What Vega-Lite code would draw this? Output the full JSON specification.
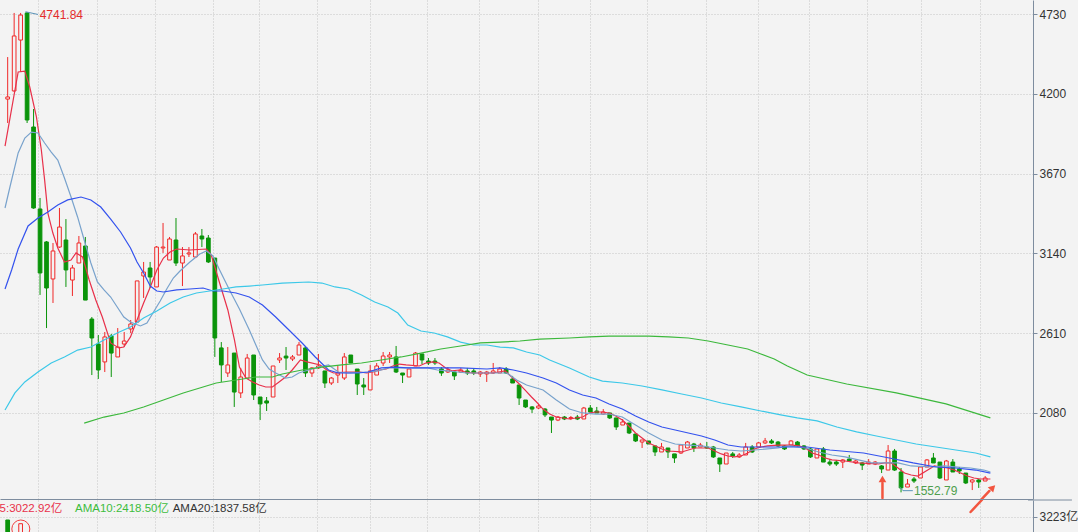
{
"$schema":"https://vega.github.io/schema/vega-lite/v6.json",
"background":"#f3f3f3",
"padding":0,
"spacing":0,
"config":{"view":{"stroke":null},"axis":{"domainColor":"#7d8c9e","tickColor":"#7d8c9e","labelColor":"#333333","labelFont":"Liberation Sans, Noto Sans CJK SC","labelFontSize":12,"gridColor":"#c4c4c4","gridDash":[1,2],"gridOpacity":1,"title":null},"axisY":{"orient":"right","tickSize":4,"labelPadding":2,"grid":true,"format":"d"}},
"datasets":{
"k":[
{"i":0,"o":4165,"h":4444,"l":4006,"c":4179},
{"i":1,"o":4219,"h":4737,"l":4212,"c":4584},
{"i":2,"o":4557,"h":4737,"l":4345,"c":4723},
{"i":3,"o":4737,"h":4741.84,"l":4006,"c":4026},
{"i":4,"o":3979.5,"h":4099,"l":3436,"c":3441.5},
{"i":5,"o":3435,"h":3508,"l":2864,"c":3010},
{"i":6,"o":3216,"h":3222,"l":2644,"c":2910},
{"i":7,"o":2970,"h":3209,"l":2810.5,"c":3156},
{"i":8,"o":3182,"h":3441.5,"l":3176,"c":3315},
{"i":9,"o":3229,"h":3368,"l":2917,"c":3030},
{"i":10,"o":2963,"h":3063,"l":2857,"c":3043},
{"i":11,"o":3076,"h":3255.5,"l":3076,"c":3209},
{"i":12,"o":3189,"h":3249,"l":2830,"c":2830},
{"i":13,"o":2704,"h":2717.5,"l":2332,"c":2578},
{"i":14,"o":2538,"h":2598,"l":2306,"c":2365.5},
{"i":15,"o":2419,"h":2618,"l":2352,"c":2585},
{"i":16,"o":2591,"h":2605,"l":2319,"c":2478},
{"i":17,"o":2452,"h":2644,"l":2452,"c":2518},
{"i":18,"o":2538,"h":2618,"l":2518,"c":2558},
{"i":19,"o":2638,"h":2697.6,"l":2611,"c":2671},
{"i":20,"o":2684,"h":2957,"l":2684,"c":2957},
{"i":21,"o":2990,"h":3083,"l":2844,"c":3016},
{"i":22,"o":3043,"h":3083,"l":2910,"c":2983},
{"i":23,"o":2917,"h":3189,"l":2917,"c":3182},
{"i":24,"o":3176,"h":3342,"l":3143,"c":3182},
{"i":25,"o":3096,"h":3249,"l":3096,"c":3235.6},
{"i":26,"o":3229,"h":3375,"l":3056,"c":3076},
{"i":27,"o":3076,"h":3182,"l":2923,"c":3123},
{"i":28,"o":3136,"h":3182,"l":3116,"c":3143},
{"i":29,"o":3116,"h":3282,"l":3116,"c":3269},
{"i":30,"o":3255.5,"h":3302,"l":3182,"c":3235.6},
{"i":31,"o":3242,"h":3262,"l":3076,"c":3083},
{"i":32,"o":3109,"h":3109,"l":2452,"c":2578},
{"i":33,"o":2512,"h":2551,"l":2286,"c":2399},
{"i":34,"o":2345.5,"h":2518,"l":2319,"c":2399},
{"i":35,"o":2478,"h":2478,"l":2120,"c":2219},
{"i":36,"o":2213,"h":2379,"l":2179.5,"c":2319},
{"i":37,"o":2312,"h":2472,"l":2312,"c":2445},
{"i":38,"o":2465,"h":2465,"l":2166,"c":2199.4},
{"i":39,"o":2186,"h":2186,"l":2033,"c":2140},
{"i":40,"o":2160,"h":2186,"l":2093,"c":2146},
{"i":41,"o":2186,"h":2392,"l":2186,"c":2392},
{"i":42,"o":2432,"h":2478,"l":2412,"c":2445},
{"i":43,"o":2458,"h":2518,"l":2365.5,"c":2445},
{"i":44,"o":2438.5,"h":2465,"l":2425,"c":2452},
{"i":45,"o":2465,"h":2551,"l":2465,"c":2531.5},
{"i":46,"o":2512,"h":2525,"l":2319,"c":2345.5},
{"i":47,"o":2345.5,"h":2385,"l":2319,"c":2379},
{"i":48,"o":2379,"h":2472,"l":2372,"c":2392},
{"i":49,"o":2359,"h":2359,"l":2246,"c":2279},
{"i":50,"o":2279,"h":2319,"l":2266,"c":2312},
{"i":51,"o":2332,"h":2392,"l":2279,"c":2345.5},
{"i":52,"o":2312,"h":2478,"l":2299,"c":2452},
{"i":53,"o":2465,"h":2465,"l":2412,"c":2412},
{"i":54,"o":2372,"h":2372,"l":2199.4,"c":2272.5},
{"i":55,"o":2266,"h":2312,"l":2199.4,"c":2252.5},
{"i":56,"o":2233,"h":2399,"l":2233,"c":2359},
{"i":57,"o":2332,"h":2412,"l":2332,"c":2392},
{"i":58,"o":2412,"h":2485,"l":2392,"c":2458.4},
{"i":59,"o":2452,"h":2485,"l":2412,"c":2465},
{"i":60,"o":2452,"h":2525,"l":2345.5,"c":2352},
{"i":61,"o":2345.5,"h":2345.5,"l":2279,"c":2332},
{"i":62,"o":2319,"h":2372,"l":2319,"c":2372},
{"i":63,"o":2392,"h":2485,"l":2392,"c":2478},
{"i":64,"o":2472,"h":2472,"l":2405,"c":2432},
{"i":65,"o":2425,"h":2445,"l":2399,"c":2412},
{"i":66,"o":2425,"h":2445,"l":2399,"c":2412},
{"i":67,"o":2372,"h":2385,"l":2326,"c":2345.5},
{"i":68,"o":2352,"h":2385,"l":2345.5,"c":2365.5},
{"i":69,"o":2352,"h":2359,"l":2299,"c":2326},
{"i":70,"o":2352,"h":2379,"l":2345.5,"c":2365.5},
{"i":71,"o":2359,"h":2379,"l":2332,"c":2345.5},
{"i":72,"o":2359,"h":2372,"l":2332,"c":2345.5},
{"i":73,"o":2339,"h":2359,"l":2319,"c":2352},
{"i":74,"o":2339,"h":2359,"l":2286,"c":2352},
{"i":75,"o":2345.5,"h":2412,"l":2339,"c":2359},
{"i":76,"o":2345.5,"h":2385,"l":2345.5,"c":2372},
{"i":77,"o":2372,"h":2385,"l":2339,"c":2345.5},
{"i":78,"o":2306,"h":2326,"l":2279,"c":2279},
{"i":79,"o":2266,"h":2266,"l":2133,"c":2179.5},
{"i":80,"o":2166,"h":2166,"l":2113,"c":2120},
{"i":81,"o":2120,"h":2126,"l":2080,"c":2106},
{"i":82,"o":2113,"h":2140,"l":2106,"c":2126},
{"i":83,"o":2106,"h":2113,"l":2053,"c":2067},
{"i":84,"o":2053,"h":2053,"l":1947,"c":2033},
{"i":85,"o":2033,"h":2060,"l":2026,"c":2053},
{"i":86,"o":2053,"h":2060,"l":2033,"c":2040},
{"i":87,"o":2043,"h":2060,"l":2033,"c":2050},
{"i":88,"o":2053,"h":2067,"l":2033,"c":2040},
{"i":89,"o":2040,"h":2120,"l":2040,"c":2113},
{"i":90,"o":2113,"h":2133,"l":2086.5,"c":2086.5},
{"i":91,"o":2093,"h":2120,"l":2080,"c":2080},
{"i":92,"o":2073,"h":2106,"l":2067,"c":2086.5},
{"i":93,"o":2080,"h":2080,"l":2040,"c":2047},
{"i":94,"o":2047,"h":2047,"l":1967,"c":1987},
{"i":95,"o":2000,"h":2040,"l":2000,"c":2020},
{"i":96,"o":2013,"h":2013,"l":1940,"c":1947},
{"i":97,"o":1940.4,"h":1940.4,"l":1887,"c":1894},
{"i":98,"o":1887,"h":1900.5,"l":1847.4,"c":1900.5},
{"i":99,"o":1894,"h":1894,"l":1874,"c":1874},
{"i":100,"o":1861,"h":1861,"l":1794,"c":1821},
{"i":101,"o":1821,"h":1881,"l":1821,"c":1854},
{"i":102,"o":1847.4,"h":1847.4,"l":1781,"c":1821},
{"i":103,"o":1808,"h":1808,"l":1748,"c":1781},
{"i":104,"o":1814,"h":1874,"l":1808,"c":1867},
{"i":105,"o":1847.4,"h":1894,"l":1847.4,"c":1887},
{"i":106,"o":1874,"h":1881,"l":1821,"c":1847.4},
{"i":107,"o":1854,"h":1881,"l":1854,"c":1867},
{"i":108,"o":1854,"h":1887,"l":1841,"c":1847.4},
{"i":109,"o":1854,"h":1861,"l":1781,"c":1788},
{"i":110,"o":1781,"h":1781,"l":1688,"c":1741},
{"i":111,"o":1741,"h":1814,"l":1741,"c":1814},
{"i":112,"o":1808,"h":1821,"l":1781,"c":1794},
{"i":113,"o":1788,"h":1814,"l":1781,"c":1801},
{"i":114,"o":1801,"h":1881,"l":1801,"c":1854},
{"i":115,"o":1854,"h":1867,"l":1814,"c":1821},
{"i":116,"o":1854,"h":1887,"l":1854,"c":1881},
{"i":117,"o":1881,"h":1914,"l":1874,"c":1894},
{"i":118,"o":1894,"h":1907,"l":1874,"c":1881},
{"i":119,"o":1887,"h":1894,"l":1854,"c":1861},
{"i":120,"o":1861,"h":1867,"l":1834,"c":1841},
{"i":121,"o":1867,"h":1900.5,"l":1867,"c":1894},
{"i":122,"o":1887,"h":1894,"l":1854,"c":1861},
{"i":123,"o":1861,"h":1867,"l":1834,"c":1841},
{"i":124,"o":1841,"h":1847,"l":1781,"c":1788},
{"i":125,"o":1781,"h":1841,"l":1781,"c":1841},
{"i":126,"o":1841,"h":1854,"l":1754,"c":1754},
{"i":127,"o":1754,"h":1774,"l":1728,"c":1741},
{"i":128,"o":1754,"h":1768,"l":1728,"c":1741},
{"i":129,"o":1754,"h":1774,"l":1714.5,"c":1768},
{"i":130,"o":1774,"h":1801,"l":1761,"c":1761},
{"i":131,"o":1748,"h":1768,"l":1741,"c":1761},
{"i":132,"o":1748,"h":1754,"l":1701,"c":1734},
{"i":133,"o":1741,"h":1774,"l":1741,"c":1754},
{"i":134,"o":1741,"h":1761,"l":1734,"c":1754},
{"i":135,"o":1728,"h":1734,"l":1681,"c":1708},
{"i":136,"o":1701,"h":1867,"l":1701,"c":1827.5},
{"i":137,"o":1827.5,"h":1841,"l":1695,"c":1701},
{"i":138,"o":1688,"h":1714.5,"l":1552.79,"c":1582},
{"i":139,"o":1588,"h":1641.5,"l":1588,"c":1608},
{"i":140,"o":1641.5,"h":1655,"l":1615,"c":1628},
{"i":141,"o":1648,"h":1728,"l":1648,"c":1721},
{"i":142,"o":1721,"h":1774,"l":1721,"c":1768},
{"i":143,"o":1781,"h":1814,"l":1748,"c":1748},
{"i":144,"o":1754,"h":1754,"l":1641.5,"c":1648},
{"i":145,"o":1635,"h":1768,"l":1635,"c":1761},
{"i":146,"o":1754,"h":1774,"l":1688,"c":1688},
{"i":147,"o":1708,"h":1721,"l":1674.5,"c":1694.6},
{"i":148,"o":1681,"h":1681,"l":1608,"c":1615},
{"i":149,"o":1621.6,"h":1641.5,"l":1568,"c":1635},
{"i":150,"o":1635,"h":1641.5,"l":1582,"c":1621.6},
{"i":151,"o":1628,"h":1661,"l":1628,"c":1648}
],
"ma":[
{"s":"MA5","i":-0.41,"v":3853},{"s":"MA5","i":1.62,"v":4345},{"s":"MA5","i":2.65,"v":4351},{"s":"MA5","i":3.41,"v":4245},{"s":"MA5","i":4.44,"v":4046},{"s":"MA5","i":5.2,"v":3827},{"s":"MA5","i":5.71,"v":3627},{"s":"MA5","i":6.21,"v":3408},{"s":"MA5","i":6.98,"v":3275},{"s":"MA5","i":7.74,"v":3176},{"s":"MA5","i":8.77,"v":3083},{"s":"MA5","i":9.79,"v":3096},{"s":"MA5","i":10.56,"v":3143},{"s":"MA5","i":11.57,"v":3116},{"s":"MA5","i":12.59,"v":2963},{"s":"MA5","i":13.61,"v":2830},{"s":"MA5","i":14.62,"v":2717.5},{"s":"MA5","i":15.91,"v":2545},{"s":"MA5","i":17.18,"v":2512},{"s":"MA5","i":17.94,"v":2518},{"s":"MA5","i":18.97,"v":2585},{"s":"MA5","i":19.98,"v":2697.6},{"s":"MA5","i":21.0,"v":2810.5},{"s":"MA5","i":22.03,"v":2917},{"s":"MA5","i":23.04,"v":3030},{"s":"MA5","i":24.06,"v":3109},{"s":"MA5","i":25.09,"v":3149},{"s":"MA5","i":26.1,"v":3169},{"s":"MA5","i":28.15,"v":3162.5},{"s":"MA5","i":30.69,"v":3169},{"s":"MA5","i":31.45,"v":3129},{"s":"MA5","i":32.74,"v":2943},{"s":"MA5","i":34.01,"v":2764},{"s":"MA5","i":35.03,"v":2565},{"s":"MA5","i":35.8,"v":2385},{"s":"MA5","i":36.81,"v":2312},{"s":"MA5","i":37.83,"v":2286},{"s":"MA5","i":38.86,"v":2266},{"s":"MA5","i":39.87,"v":2252.5},{"s":"MA5","i":40.89,"v":2252.5},{"s":"MA5","i":41.92,"v":2286},{"s":"MA5","i":42.93,"v":2319},{"s":"MA5","i":43.95,"v":2365.5},{"s":"MA5","i":45.22,"v":2432},{"s":"MA5","i":46.24,"v":2419},{"s":"MA5","i":48.28,"v":2399},{"s":"MA5","i":49.3,"v":2365.5},{"s":"MA5","i":50.33,"v":2345.5},{"s":"MA5","i":52.36,"v":2352},{"s":"MA5","i":54.4,"v":2352},{"s":"MA5","i":55.42,"v":2345.5},{"s":"MA5","i":56.45,"v":2352},{"s":"MA5","i":57.46,"v":2365.5},{"s":"MA5","i":58.48,"v":2372},{"s":"MA5","i":59.51,"v":2392},{"s":"MA5","i":60.52,"v":2405},{"s":"MA5","i":61.54,"v":2399},{"s":"MA5","i":63.58,"v":2392},{"s":"MA5","i":64.6,"v":2412},{"s":"MA5","i":65.63,"v":2419},{"s":"MA5","i":66.64,"v":2412},{"s":"MA5","i":67.66,"v":2379},{"s":"MA5","i":68.69,"v":2359},{"s":"MA5","i":69.7,"v":2365.5},{"s":"MA5","i":70.72,"v":2352},{"s":"MA5","i":71.75,"v":2345.5},{"s":"MA5","i":74.81,"v":2345.5},{"s":"MA5","i":75.82,"v":2352},{"s":"MA5","i":76.84,"v":2359},{"s":"MA5","i":77.86,"v":2319},{"s":"MA5","i":78.87,"v":2279},{"s":"MA5","i":79.9,"v":2233},{"s":"MA5","i":80.92,"v":2186},{"s":"MA5","i":81.69,"v":2153},{"s":"MA5","i":82.7,"v":2106},{"s":"MA5","i":83.72,"v":2073},{"s":"MA5","i":84.75,"v":2053},{"s":"MA5","i":86.78,"v":2040},{"s":"MA5","i":88.82,"v":2053},{"s":"MA5","i":89.84,"v":2080},{"s":"MA5","i":90.87,"v":2086.5},{"s":"MA5","i":91.88,"v":2086.5},{"s":"MA5","i":92.9,"v":2080},{"s":"MA5","i":93.93,"v":2060},{"s":"MA5","i":94.94,"v":2033},{"s":"MA5","i":95.96,"v":1993.5},{"s":"MA5","i":96.99,"v":1947},{"s":"MA5","i":98.0,"v":1914},{"s":"MA5","i":99.02,"v":1881},{"s":"MA5","i":100.05,"v":1861},{"s":"MA5","i":101.06,"v":1841},{"s":"MA5","i":102.08,"v":1827.5},{"s":"MA5","i":104.12,"v":1821},{"s":"MA5","i":105.14,"v":1834},{"s":"MA5","i":106.16,"v":1847.4},{"s":"MA5","i":108.2,"v":1847.4},{"s":"MA5","i":109.22,"v":1827.5},{"s":"MA5","i":110.23,"v":1808},{"s":"MA5","i":111.26,"v":1794},{"s":"MA5","i":112.28,"v":1788},{"s":"MA5","i":113.29,"v":1794},{"s":"MA5","i":114.31,"v":1814},{"s":"MA5","i":115.34,"v":1841},{"s":"MA5","i":116.35,"v":1854},{"s":"MA5","i":117.37,"v":1861},{"s":"MA5","i":119.0,"v":1867},{"s":"MA5","i":121.2,"v":1867},{"s":"MA5","i":122.23,"v":1861},{"s":"MA5","i":123.24,"v":1847.4},{"s":"MA5","i":124.26,"v":1814},{"s":"MA5","i":125.28,"v":1801},{"s":"MA5","i":126.3,"v":1781},{"s":"MA5","i":127.32,"v":1768},{"s":"MA5","i":129.36,"v":1761},{"s":"MA5","i":131.4,"v":1748},{"s":"MA5","i":134.47,"v":1741},{"s":"MA5","i":135.48,"v":1748},{"s":"MA5","i":136.5,"v":1748},{"s":"MA5","i":137.53,"v":1714.5},{"s":"MA5","i":138.54,"v":1681},{"s":"MA5","i":139.56,"v":1668},{"s":"MA5","i":140.59,"v":1661},{"s":"MA5","i":142.12,"v":1701},{"s":"MA5","i":143.14,"v":1728},{"s":"MA5","i":144.17,"v":1721},{"s":"MA5","i":145.19,"v":1714.5},{"s":"MA5","i":146.21,"v":1701},{"s":"MA5","i":147.22,"v":1681},{"s":"MA5","i":148.25,"v":1661},{"s":"MA5","i":149.26,"v":1648},{"s":"MA5","i":150.28,"v":1641.5},{"s":"MA5","i":151.8,"v":1641.5},
{"s":"MA10","i":-0.41,"v":3441.5},{"s":"MA10","i":0.35,"v":3581},{"s":"MA10","i":1.62,"v":3807},{"s":"MA10","i":2.65,"v":3906},{"s":"MA10","i":3.67,"v":3946},{"s":"MA10","i":4.68,"v":3940},{"s":"MA10","i":5.71,"v":3873},{"s":"MA10","i":6.73,"v":3813},{"s":"MA10","i":7.74,"v":3760},{"s":"MA10","i":8.77,"v":3641},{"s":"MA10","i":9.79,"v":3514.5},{"s":"MA10","i":10.8,"v":3382},{"s":"MA10","i":11.82,"v":3229},{"s":"MA10","i":12.85,"v":3076},{"s":"MA10","i":13.86,"v":2950},{"s":"MA10","i":14.88,"v":2897},{"s":"MA10","i":15.91,"v":2850},{"s":"MA10","i":16.92,"v":2784},{"s":"MA10","i":17.94,"v":2717.5},{"s":"MA10","i":18.97,"v":2684},{"s":"MA10","i":20.5,"v":2658},{"s":"MA10","i":21.51,"v":2678},{"s":"MA10","i":22.53,"v":2751},{"s":"MA10","i":23.56,"v":2824},{"s":"MA10","i":24.57,"v":2903.5},{"s":"MA10","i":25.59,"v":2976.5},{"s":"MA10","i":26.62,"v":3023},{"s":"MA10","i":28.15,"v":3083},{"s":"MA10","i":29.68,"v":3136},{"s":"MA10","i":30.69,"v":3156},{"s":"MA10","i":31.71,"v":3123},{"s":"MA10","i":32.74,"v":3030},{"s":"MA10","i":34.27,"v":2897},{"s":"MA10","i":35.8,"v":2770.6},{"s":"MA10","i":37.33,"v":2631},{"s":"MA10","i":38.34,"v":2531.5},{"s":"MA10","i":39.36,"v":2432},{"s":"MA10","i":40.39,"v":2372},{"s":"MA10","i":41.4,"v":2345.5},{"s":"MA10","i":42.93,"v":2312},{"s":"MA10","i":43.95,"v":2319},{"s":"MA10","i":44.97,"v":2345.5},{"s":"MA10","i":46.5,"v":2365.5},{"s":"MA10","i":48.03,"v":2385},{"s":"MA10","i":49.56,"v":2399},{"s":"MA10","i":51.09,"v":2352},{"s":"MA10","i":52.62,"v":2345.5},{"s":"MA10","i":55.68,"v":2352},{"s":"MA10","i":57.21,"v":2359},{"s":"MA10","i":58.74,"v":2379},{"s":"MA10","i":64.86,"v":2379},{"s":"MA10","i":66.39,"v":2365.5},{"s":"MA10","i":67.92,"v":2359},{"s":"MA10","i":69.45,"v":2352},{"s":"MA10","i":70.98,"v":2345.5},{"s":"MA10","i":77.1,"v":2345.5},{"s":"MA10","i":78.63,"v":2299},{"s":"MA10","i":80.15,"v":2266},{"s":"MA10","i":82.7,"v":2233},{"s":"MA10","i":84.75,"v":2166},{"s":"MA10","i":86.78,"v":2106},{"s":"MA10","i":88.82,"v":2080},{"s":"MA10","i":90.87,"v":2073},{"s":"MA10","i":92.9,"v":2073},{"s":"MA10","i":94.94,"v":2053},{"s":"MA10","i":96.99,"v":2000},{"s":"MA10","i":99.02,"v":1947},{"s":"MA10","i":101.06,"v":1900.5},{"s":"MA10","i":103.11,"v":1874},{"s":"MA10","i":105.14,"v":1867},{"s":"MA10","i":107.18,"v":1861},{"s":"MA10","i":109.22,"v":1847.4},{"s":"MA10","i":111.26,"v":1834},{"s":"MA10","i":113.29,"v":1827.5},{"s":"MA10","i":115.34,"v":1834},{"s":"MA10","i":117.37,"v":1841},{"s":"MA10","i":119.0,"v":1847.4},{"s":"MA10","i":120.7,"v":1861},{"s":"MA10","i":123.24,"v":1847.4},{"s":"MA10","i":125.28,"v":1821},{"s":"MA10","i":127.32,"v":1801},{"s":"MA10","i":129.36,"v":1788},{"s":"MA10","i":131.4,"v":1768},{"s":"MA10","i":133.44,"v":1748},{"s":"MA10","i":135.48,"v":1748},{"s":"MA10","i":137.53,"v":1748},{"s":"MA10","i":139.56,"v":1728},{"s":"MA10","i":142.64,"v":1721},{"s":"MA10","i":144.68,"v":1728},{"s":"MA10","i":146.72,"v":1721},{"s":"MA10","i":148.75,"v":1714.5},{"s":"MA10","i":150.79,"v":1701},{"s":"MA10","i":151.8,"v":1688},
{"s":"MA20","i":-0.41,"v":2903.5},{"s":"MA20","i":0.61,"v":3030},{"s":"MA20","i":1.62,"v":3169},{"s":"MA20","i":3.15,"v":3322},{"s":"MA20","i":4.68,"v":3375},{"s":"MA20","i":6.21,"v":3415},{"s":"MA20","i":7.74,"v":3461},{"s":"MA20","i":9.27,"v":3495},{"s":"MA20","i":11.32,"v":3514.5},{"s":"MA20","i":12.85,"v":3495},{"s":"MA20","i":14.38,"v":3448},{"s":"MA20","i":15.91,"v":3368},{"s":"MA20","i":17.44,"v":3282},{"s":"MA20","i":18.97,"v":3176},{"s":"MA20","i":19.98,"v":3083},{"s":"MA20","i":21.0,"v":3010},{"s":"MA20","i":22.03,"v":2923},{"s":"MA20","i":23.04,"v":2890},{"s":"MA20","i":24.06,"v":2883.5},{"s":"MA20","i":26.1,"v":2897},{"s":"MA20","i":28.15,"v":2903.5},{"s":"MA20","i":30.18,"v":2910},{"s":"MA20","i":31.71,"v":2890},{"s":"MA20","i":33.24,"v":2890},{"s":"MA20","i":35.28,"v":2877},{"s":"MA20","i":37.33,"v":2850},{"s":"MA20","i":39.36,"v":2797},{"s":"MA20","i":41.4,"v":2717.5},{"s":"MA20","i":43.45,"v":2631},{"s":"MA20","i":45.48,"v":2545},{"s":"MA20","i":47.51,"v":2452},{"s":"MA20","i":49.56,"v":2365.5},{"s":"MA20","i":51.09,"v":2345.5},{"s":"MA20","i":54.15,"v":2345.5},{"s":"MA20","i":55.68,"v":2352},{"s":"MA20","i":57.72,"v":2379},{"s":"MA20","i":59.75,"v":2385},{"s":"MA20","i":61.8,"v":2379},{"s":"MA20","i":69.96,"v":2379},{"s":"MA20","i":74.04,"v":2372},{"s":"MA20","i":76.07,"v":2379},{"s":"MA20","i":78.11,"v":2365.5},{"s":"MA20","i":80.15,"v":2345.5},{"s":"MA20","i":82.7,"v":2312},{"s":"MA20","i":84.75,"v":2279},{"s":"MA20","i":86.78,"v":2233},{"s":"MA20","i":88.82,"v":2199.4},{"s":"MA20","i":90.87,"v":2179.5},{"s":"MA20","i":92.9,"v":2140},{"s":"MA20","i":94.94,"v":2106},{"s":"MA20","i":96.99,"v":2060},{"s":"MA20","i":99.02,"v":2020},{"s":"MA20","i":101.06,"v":1987},{"s":"MA20","i":103.11,"v":1967},{"s":"MA20","i":105.14,"v":1947},{"s":"MA20","i":107.18,"v":1927},{"s":"MA20","i":109.22,"v":1900.5},{"s":"MA20","i":111.26,"v":1867},{"s":"MA20","i":113.29,"v":1854},{"s":"MA20","i":117.37,"v":1854},{"s":"MA20","i":123.5,"v":1854},{"s":"MA20","i":127.0,"v":1834},{"s":"MA20","i":132.21,"v":1814},{"s":"MA20","i":136.2,"v":1781},{"s":"MA20","i":139.87,"v":1748},{"s":"MA20","i":143.4,"v":1721},{"s":"MA20","i":146.47,"v":1714.5},{"s":"MA20","i":149.52,"v":1701},{"s":"MA20","i":151.8,"v":1681},
{"s":"MA30","i":-0.41,"v":2100},{"s":"MA30","i":1.12,"v":2213},{"s":"MA30","i":2.65,"v":2286},{"s":"MA30","i":4.68,"v":2352},{"s":"MA30","i":6.73,"v":2412},{"s":"MA30","i":8.77,"v":2452},{"s":"MA30","i":10.8,"v":2498},{"s":"MA30","i":12.85,"v":2518},{"s":"MA30","i":14.88,"v":2565},{"s":"MA30","i":16.92,"v":2611},{"s":"MA30","i":18.97,"v":2651},{"s":"MA30","i":21.0,"v":2711},{"s":"MA30","i":23.04,"v":2757},{"s":"MA30","i":25.09,"v":2810.5},{"s":"MA30","i":27.12,"v":2850},{"s":"MA30","i":29.16,"v":2877},{"s":"MA30","i":31.21,"v":2890},{"s":"MA30","i":33.24,"v":2903.5},{"s":"MA30","i":35.28,"v":2917},{"s":"MA30","i":37.33,"v":2923},{"s":"MA30","i":39.36,"v":2930},{"s":"MA30","i":42.42,"v":2943},{"s":"MA30","i":46.5,"v":2950},{"s":"MA30","i":48.54,"v":2943},{"s":"MA30","i":50.57,"v":2917},{"s":"MA30","i":52.62,"v":2903.5},{"s":"MA30","i":54.66,"v":2864},{"s":"MA30","i":56.69,"v":2817},{"s":"MA30","i":58.74,"v":2784},{"s":"MA30","i":60.27,"v":2744},{"s":"MA30","i":61.8,"v":2664},{"s":"MA30","i":63.84,"v":2624.5},{"s":"MA30","i":65.87,"v":2611},{"s":"MA30","i":67.92,"v":2585},{"s":"MA30","i":69.96,"v":2551},{"s":"MA30","i":71.99,"v":2531.5},{"s":"MA30","i":74.04,"v":2531.5},{"s":"MA30","i":76.07,"v":2518},{"s":"MA30","i":78.11,"v":2512},{"s":"MA30","i":80.15,"v":2485},{"s":"MA30","i":82.19,"v":2465},{"s":"MA30","i":83.72,"v":2432},{"s":"MA30","i":86.78,"v":2379},{"s":"MA30","i":89.84,"v":2319},{"s":"MA30","i":91.88,"v":2292},{"s":"MA30","i":94.94,"v":2279},{"s":"MA30","i":98.0,"v":2259},{"s":"MA30","i":101.06,"v":2233},{"s":"MA30","i":104.12,"v":2206},{"s":"MA30","i":107.18,"v":2179.5},{"s":"MA30","i":110.23,"v":2146},{"s":"MA30","i":113.29,"v":2120},{"s":"MA30","i":116.35,"v":2093},{"s":"MA30","i":119.41,"v":2067},{"s":"MA30","i":121.97,"v":2047},{"s":"MA30","i":125.03,"v":2027},{"s":"MA30","i":128.09,"v":1987},{"s":"MA30","i":131.14,"v":1954},{"s":"MA30","i":134.2,"v":1927},{"s":"MA30","i":137.27,"v":1900.5},{"s":"MA30","i":140.33,"v":1874},{"s":"MA30","i":143.4,"v":1854},{"s":"MA30","i":146.47,"v":1834},{"s":"MA30","i":149.52,"v":1814},{"s":"MA30","i":151.8,"v":1788},
{"s":"MA60","i":11.82,"v":2013},{"s":"MA60","i":14.88,"v":2053},{"s":"MA60","i":17.94,"v":2080},{"s":"MA60","i":21.0,"v":2120},{"s":"MA60","i":24.06,"v":2166},{"s":"MA60","i":27.12,"v":2213},{"s":"MA60","i":30.18,"v":2252.5},{"s":"MA60","i":32.22,"v":2279},{"s":"MA60","i":35.28,"v":2299},{"s":"MA60","i":38.34,"v":2319},{"s":"MA60","i":40.89,"v":2319},{"s":"MA60","i":42.42,"v":2339},{"s":"MA60","i":45.48,"v":2365.5},{"s":"MA60","i":48.54,"v":2385},{"s":"MA60","i":51.6,"v":2399},{"s":"MA60","i":54.66,"v":2412},{"s":"MA60","i":57.72,"v":2432},{"s":"MA60","i":60.78,"v":2452},{"s":"MA60","i":63.84,"v":2478},{"s":"MA60","i":66.9,"v":2505},{"s":"MA60","i":69.96,"v":2525},{"s":"MA60","i":73.02,"v":2545},{"s":"MA60","i":76.07,"v":2551},{"s":"MA60","i":79.13,"v":2558},{"s":"MA60","i":82.19,"v":2571},{"s":"MA60","i":86.78,"v":2578},{"s":"MA60","i":89.84,"v":2585},{"s":"MA60","i":92.9,"v":2591},{"s":"MA60","i":99.02,"v":2591},{"s":"MA60","i":102.08,"v":2585},{"s":"MA60","i":105.14,"v":2578},{"s":"MA60","i":108.2,"v":2558},{"s":"MA60","i":111.26,"v":2531.5},{"s":"MA60","i":114.31,"v":2505},{"s":"MA60","i":116.35,"v":2472},{"s":"MA60","i":118.41,"v":2438.5},{"s":"MA60","i":120.44,"v":2392},{"s":"MA60","i":123.5,"v":2332},{"s":"MA60","i":129.61,"v":2272.5},{"s":"MA60","i":137.27,"v":2213},{"s":"MA60","i":144.94,"v":2140},{"s":"MA60","i":151.8,"v":2047}
]
},
"vconcat":[
{
"width":1033,"height":499,
"encoding":{
 "x":{"field":"i","type":"quantitative","scale":{"domain":[-0.413,157.611],"nice":false,"zero":false},"axis":{"values":[4.68,13.86,22.79,31.71,38.86,47.77,55.93,64.71,72.86,81.93,90.0,98.76,107.94,115.85,123.76,132.68,141.09,150.27],"labels":false,"ticks":false,"domain":true,"grid":true,"title":null,"maxExtent":0,"minExtent":0}},
 "y":{"field":"v","type":"quantitative","scale":{"domain":[1508.6,4823],"nice":false,"zero":false},"axis":{"orient":"right","values":[2080,2610,3140,3670,4200,4730],"format":"d","title":null}}
},
"layer":[
{"data":{"name":"k"},"mark":{"type":"rule","strokeWidth":1,"clip":true},
 "encoding":{"y":{"field":"l","type":"quantitative"},"y2":{"field":"h"},
  "color":{"condition":{"test":"datum.c >= datum.o","value":"#f02828"},"value":"#0a940a"}}},
{"data":{"name":"k"},"mark":{"type":"bar","width":3.7,"strokeWidth":1,"clip":true},
 "encoding":{"y":{"field":"o","type":"quantitative"},"y2":{"field":"c"},
  "fill":{"condition":{"test":"datum.c >= datum.o","value":"#f3f3f3"},"value":"#0a940a"},
  "stroke":{"condition":{"test":"datum.c >= datum.o","value":"#f02828"},"value":"#0a940a"}}},
{"data":{"name":"ma"},"mark":{"type":"line","strokeWidth":1.2,"clip":true},
 "encoding":{"color":{"field":"s","type":"nominal","scale":{"domain":["MA60","MA30","MA20","MA10","MA5"],"range":["#3cb83c","#3cc8e8","#3352ee","#78a2cc","#e8304a"]},"legend":null}}},
{"data":{"values":[{"g":"a","i":2.75,"v":4745},{"g":"a","i":4.68,"v":4727},{"g":"b","i":137.77,"v":1590},{"g":"b","i":138.3,"v":1564},{"g":"b","i":139.82,"v":1564}]},
 "mark":{"type":"line","strokeWidth":1,"color":"#5a93b8","clip":true},
 "encoding":{"detail":{"field":"g"}}},
{"data":{"values":[{"i":4.94,"v":4723,"t":"4741.84"}]},
 "mark":{"type":"text","align":"left","baseline":"middle","fontSize":12,"font":"Liberation Sans","color":"#e32b2b"},
 "encoding":{"text":{"field":"t"}}},
{"data":{"values":[{"i":140.0,"v":1562,"t":"1552.79"}]},
 "mark":{"type":"text","align":"left","baseline":"middle","fontSize":12,"font":"Liberation Sans","color":"#4e9e4e"},
 "encoding":{"text":{"field":"t"}}},
{"data":{"values":[{"i":135.13,"i2":135.13,"v":1515,"v2":1615},{"i":148.74,"i2":151.65,"v":1429,"v2":1562}]},
 "mark":{"type":"rule","strokeWidth":2.5,"color":"#f2553f","strokeCap":"round","clip":true},
 "encoding":{"x2":{"field":"i2"},"y2":{"field":"v2"}}},
{"data":{"values":[{"i":135.13,"v":1641.5}]},
 "mark":{"type":"point","shape":"triangle-up","filled":true,"size":60,"color":"#f2553f","opacity":1}},
{"data":{"values":[{"i":152.18,"v":1585}]},
 "mark":{"type":"point","shape":"triangle-up","filled":true,"size":60,"angle":45,"color":"#f2553f","opacity":1}}
]
},
{
"width":1033,"height":33,
"encoding":{
 "x":{"field":"i","type":"quantitative","scale":{"domain":[-0.413,157.611],"nice":false,"zero":false},"axis":{"values":[4.68,13.86,22.79,31.71,38.86,47.77,55.93,64.71,72.86,81.93,90.0,98.76,107.94,115.85,123.76,132.68,141.09,150.27],"labels":false,"ticks":false,"domain":false,"grid":true,"title":null,"maxExtent":0,"minExtent":0}},
 "y":{"field":"vol","type":"quantitative","scale":{"domain":[0,6647.4],"nice":false,"zero":false},"axis":{"orient":"right","values":[3223],"format":"d","labelExpr":"datum.label + '亿'","title":null}}
},
"layer":[
{"data":{"values":[{"i":0,"vol":2619,"dir":"down"},{"i":2,"vol":1873,"dir":"up"}]},
 "mark":{"type":"bar","width":3.7,"strokeWidth":1,"clip":true},
 "encoding":{
  "fill":{"condition":{"test":"datum.dir == 'up'","value":"#f3f3f3"},"value":"#0a940a"},
  "stroke":{"condition":{"test":"datum.dir == 'up'","value":"#f02828"},"value":"#0a940a"}}},
{"data":{"values":[{"i":157.611,"i2":164.4,"vol":6647.4}]},
 "mark":{"type":"rule","strokeWidth":1,"color":"#7d8c9e"},
 "encoding":{"x2":{"field":"i2"}}},
{"data":{"values":[{"i":148.74,"i2":150.48,"vol":4230,"vol2":6647.4}]},
 "mark":{"type":"rule","strokeWidth":2.5,"color":"#f2553f","strokeCap":"round","clip":true},
 "encoding":{"x2":{"field":"i2"},"y2":{"field":"vol2"}}},
{"data":{"values":[{"i":2.03,"vol":806}]},
 "mark":{"type":"point","shape":"circle","filled":false,"size":324,"strokeWidth":1,"color":"#f04040","opacity":1,"clip":true}},
{"data":{"values":[{"i":-5.1,"vol":4774,"t":"AMA5:3022.92亿","ma":"AMA5"},{"i":10.4,"vol":4774,"t":"AMA10:2418.50亿","ma":"AMA10"},{"i":25.49,"vol":4774,"t":"AMA20:1837.58亿","ma":"AMA20"}]},
 "mark":{"type":"text","align":"left","baseline":"middle","fontSize":11.5,"font":"Liberation Sans, Noto Sans CJK SC","clip":true},
 "encoding":{"text":{"field":"t"},
  "color":{"condition":[{"test":"datum.ma == 'AMA5'","value":"#e8304a"},{"test":"datum.ma == 'AMA10'","value":"#3dbd3d"}],"value":"#333333"}}}
]
}
]
}
